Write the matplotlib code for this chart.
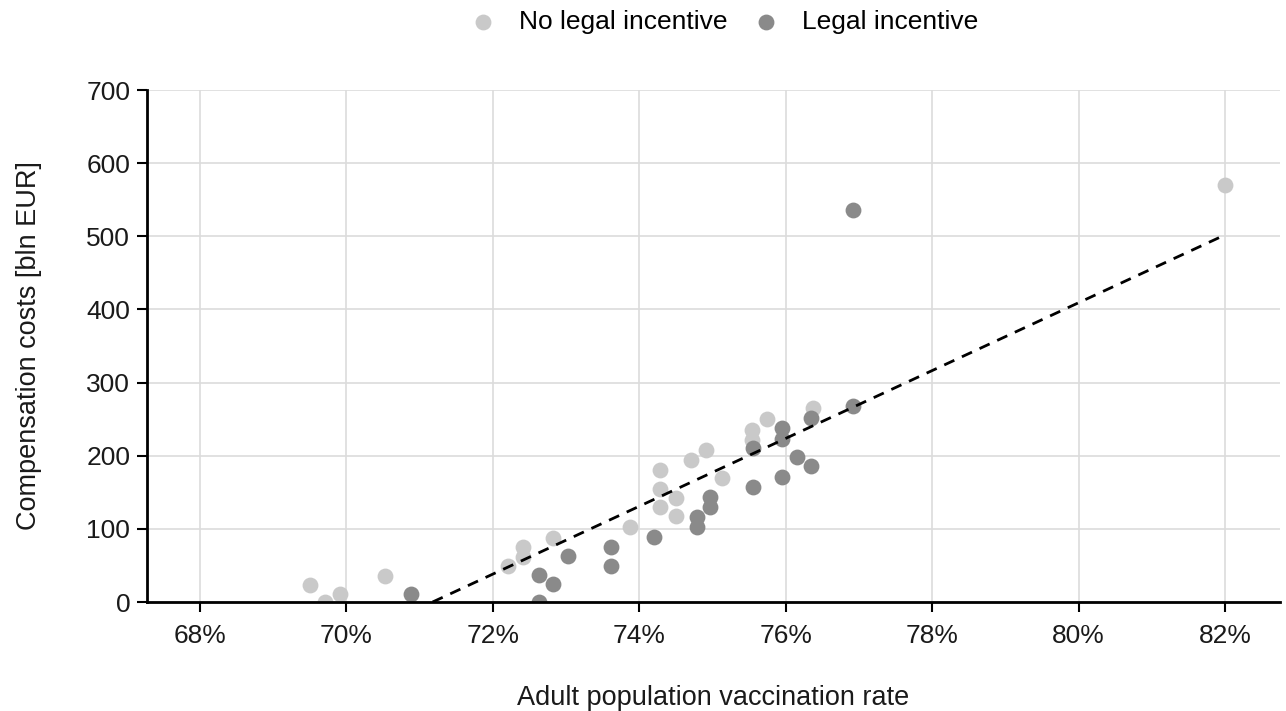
import matplotlib
matplotlib.use("Agg")
import matplotlib.pyplot as plt
from matplotlib.ticker import FuncFormatter

plt.rcParams["font.family"] = ["Liberation Sans", "DejaVu Sans"]

# ── Data ───────────────────────────────────────────────────────────────────
no_legal_x = [69.50, 69.71, 69.91, 70.53, 72.21, 72.41, 72.41, 72.82, 73.87,
              74.28, 74.28, 74.28, 74.50, 74.50, 74.71, 74.91, 75.13, 75.54,
              75.54, 75.74, 76.37, 82.00]
no_legal_y = [23, 0, 11, 36, 49, 62, 75, 88, 103,
              130, 155, 180, 118, 142, 194, 208, 170, 221,
              235, 250, 265, 570]

legal_x = [70.88, 72.63, 72.63, 72.83, 73.03, 73.61, 73.61, 74.20, 74.79,
           74.79, 74.97, 74.97, 75.55, 75.55, 75.95, 75.95, 75.95, 76.15,
           76.35, 76.35, 76.92, 76.92]
legal_y = [11, 0, 37, 25, 63, 49, 75, 89, 103,
           116, 130, 143, 157, 211, 171, 223, 238, 198,
           186, 252, 268, 536]

fit_x = [71.18, 82.00]
fit_y = [0, 502]

LIGHT = "#c9c9c9"
DARK = "#8a8a8a"
TXT = "#1a1a1a"

fig = plt.figure(figsize=(12.86, 7.11), dpi=100)
ax = fig.add_axes([0.1143, 0.1533, 0.881, 0.720])

ax.scatter(no_legal_x, no_legal_y, s=130, color=LIGHT, linewidths=0,
           zorder=3, label="No legal incentive")
ax.scatter(legal_x, legal_y, s=130, color=DARK, linewidths=0,
           zorder=3, label="Legal incentive")
ax.plot(fit_x, fit_y, color="black", ls=(0, (4, 3)), lw=2, zorder=4)

ax.set_xlim(67.28, 82.75)
ax.set_ylim(0, 700)
ax.set_xticks(range(68, 83, 2))
ax.set_yticks(range(0, 701, 100))
ax.xaxis.set_major_formatter(FuncFormatter(lambda v, _: f"{v:.0f}%"))

ax.grid(True, color="#dcdcdc", lw=1.2, zorder=0)
ax.set_axisbelow(True)
for side in ("top", "right"):
    ax.spines[side].set_visible(False)
for side in ("left", "bottom"):
    ax.spines[side].set_linewidth(2)
    ax.spines[side].set_zorder(5)
ax.tick_params(axis="both", labelsize=19, length=7, width=1.5,
               color="black", labelcolor=TXT)
ax.tick_params(axis="x", pad=8.5)
ax.tick_params(axis="y", pad=5)

ax.set_xlabel("Adult population vaccination rate", fontsize=19.5,
              labelpad=27, color=TXT)
ax.set_ylabel("Compensation costs [bln EUR]", fontsize=19.5,
              labelpad=32, color=TXT)

fig.legend(loc="upper center", bbox_to_anchor=(0.563, 1.02), ncol=2,
           frameon=False, fontsize=19, handlelength=1.0, handletextpad=0.88,
           columnspacing=0.96, markerscale=1.0)

fig.savefig("out.png", dpi=100)
